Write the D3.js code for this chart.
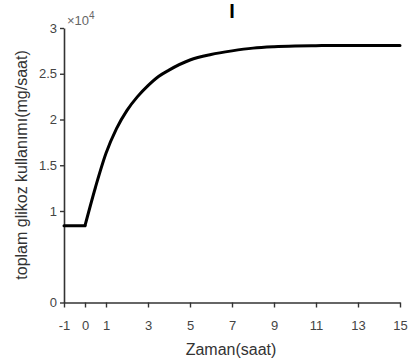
<!DOCTYPE html>
<html>
<head>
<meta charset="utf-8">
<script src="https://cdn.jsdelivr.net/npm/d3@7"></script>
<style>
body { margin: 0; background: #fff; }
svg { font-family: "Liberation Sans", Arial, sans-serif; }
</style>
</head>
<body>
<svg id="chart" width="408" height="361"></svg>
<script>
// glucose usage (x10^4 mg/saat) over time (saat)
var flatTime = [-1, 0];
var flatValue = [0.84, 0.84];
var riseTime = [0, 0.5, 1, 1.5, 2, 2.5, 3, 3.5, 4, 5, 6, 7, 8, 9, 10, 11, 12, 13, 14, 15];
var riseValue = [0.84, 1.26, 1.63, 1.90, 2.10, 2.25, 2.37, 2.47, 2.54, 2.65, 2.71, 2.75, 2.78, 2.795, 2.803, 2.807, 2.81, 2.81, 2.81, 2.81];
var xTicks = [-1, 0, 1, 3, 5, 7, 9, 11, 13, 15];
var yTicks = [0, 1, 1.5, 2, 2.5, 3];

var svg = d3.select("#chart");

var x = d3.scaleLinear().domain([-1, 15]).range([64, 400]);
var y = d3.scaleLinear().domain([0, 3]).range([302.5, 28]);

var xAxis = svg.append("g")
    .attr("transform", "translate(0," + y(0) + ")")
    .call(d3.axisBottom(x).tickValues(xTicks).tickSize(5).tickSizeOuter(0).tickPadding(13)
        .tickFormat(function(d) { return String(d); }));
var yAxis = svg.append("g")
    .attr("transform", "translate(" + x(-1) + ",0)")
    .call(d3.axisLeft(y).tickValues(yTicks).tickSize(4).tickSizeOuter(0).tickPadding(3)
        .tickFormat(function(d) { return String(d); }));

[xAxis, yAxis].forEach(function(a) {
    a.select(".domain").attr("stroke", "#333").attr("stroke-width", 1.6);
    a.selectAll(".tick line").attr("stroke", "#333").attr("stroke-width", 1.4);
    a.selectAll(".tick text").attr("fill", "#444").style("font-size", "13px")
        .style("font-family", "Liberation Sans, Arial, sans-serif");
});

var line = d3.line()
    .x(function(d) { return x(d[0]); })
    .y(function(d) { return y(d[1]); });

svg.append("path")
    .datum(d3.zip(flatTime, flatValue))
    .attr("fill", "none")
    .attr("stroke", "#000")
    .attr("stroke-width", 3)
    .attr("stroke-linecap", "round")
    .attr("d", line);

svg.append("path")
    .datum(d3.zip(riseTime, riseValue))
    .attr("fill", "none")
    .attr("stroke", "#000")
    .attr("stroke-width", 3)
    .attr("stroke-linecap", "round")
    .attr("d", line.curve(d3.curveMonotoneX));

// exponent label
var ex = svg.append("text")
    .attr("x", 67)
    .attr("y", 25)
    .attr("fill", "#666")
    .style("font-size", "13px");
ex.append("tspan").text("\u00d710");
ex.append("tspan").attr("dy", -6).style("font-size", "10px").text("4");

svg.append("text")
    .attr("x", 232)
    .attr("y", 18)
    .attr("text-anchor", "middle")
    .style("font-size", "20px")
    .style("font-weight", "bold")
    .text("I");

svg.append("text")
    .attr("x", 231)
    .attr("y", 355)
    .attr("text-anchor", "middle")
    .attr("fill", "#333")
    .style("font-size", "16px")
    .text("Zaman(saat)");

svg.append("text")
    .attr("transform", "translate(27,165) rotate(-90)")
    .attr("text-anchor", "middle")
    .attr("fill", "#333")
    .style("font-size", "16px")
    .text("toplam glikoz kullanımı(mg/saat)");
</script>
</body>
</html>
